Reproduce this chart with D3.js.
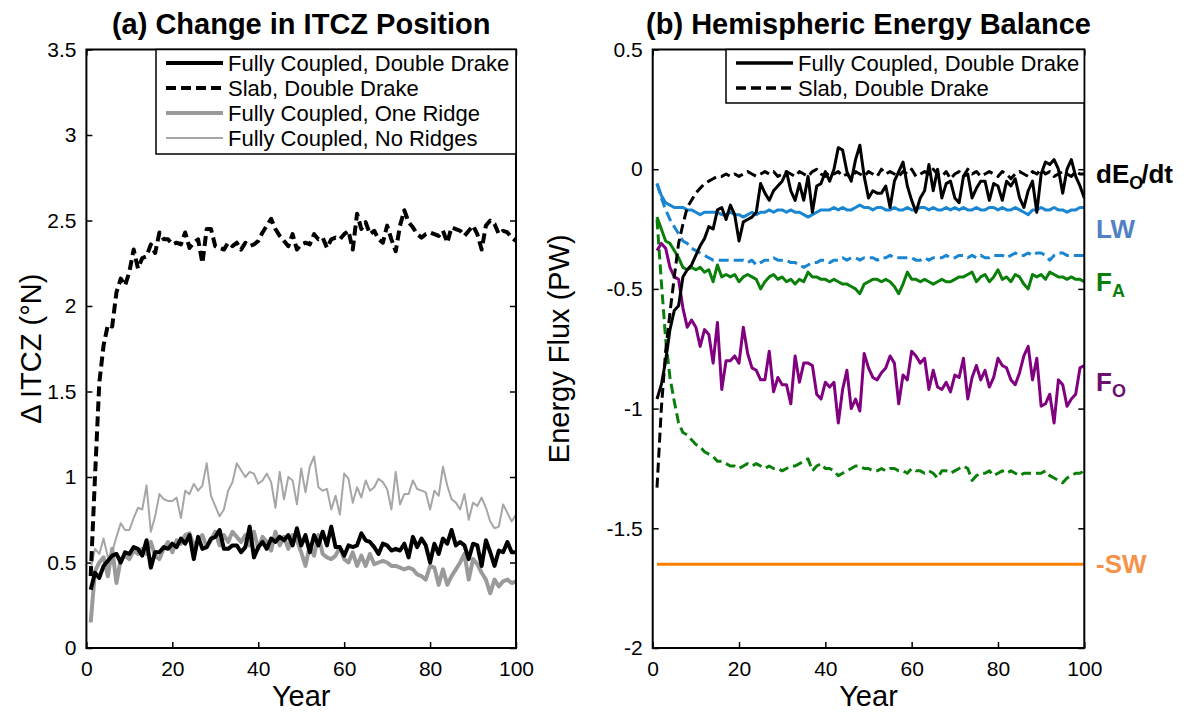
<!DOCTYPE html>
<html>
<head>
<meta charset="utf-8">
<script src="https://cdn.jsdelivr.net/npm/d3@7"></script>
<style>
  html, body { margin: 0; padding: 0; background: #ffffff; }
  svg { display: block; font-family: "Liberation Sans", Arial, Helvetica, sans-serif; }
</style>
</head>
<body>
<svg id="fig" width="1199" height="713"></svg>
<script>
// ---------- data ----------
const years = d3.range(1, 101);

// (a) ITCZ shift, degrees north
const itczCoupledDoubleDrake = [
  0.34,0.44,0.41,0.48,0.51,0.54,0.55,0.50,0.56,0.55,
  0.59,0.58,0.54,0.63,0.47,0.56,0.56,0.59,0.58,0.61,
  0.59,0.64,0.61,0.66,0.52,0.65,0.58,0.59,0.64,0.65,
  0.69,0.58,0.58,0.60,0.60,0.56,0.59,0.71,0.53,0.59,
  0.62,0.58,0.64,0.62,0.65,0.63,0.66,0.60,0.70,0.60,
  0.66,0.56,0.66,0.60,0.68,0.60,0.71,0.59,0.59,0.54,
  0.60,0.59,0.60,0.67,0.63,0.62,0.59,0.55,0.61,0.60,
  0.57,0.58,0.57,0.61,0.53,0.65,0.59,0.64,0.60,0.50,
  0.61,0.55,0.64,0.61,0.69,0.60,0.62,0.60,0.52,0.61,
  0.60,0.48,0.63,0.56,0.48,0.57,0.56,0.62,0.56,0.56];
const itczSlabDoubleDrake = [
  0.42,1.00,1.55,1.77,1.89,1.88,2.08,2.16,2.12,2.20,
  2.33,2.22,2.28,2.29,2.36,2.31,2.43,2.39,2.39,2.36,
  2.37,2.36,2.43,2.34,2.37,2.39,2.25,2.45,2.45,2.35,
  2.34,2.33,2.37,2.35,2.37,2.33,2.37,2.35,2.36,2.38,
  2.43,2.47,2.51,2.45,2.41,2.38,2.35,2.42,2.33,2.36,
  2.37,2.36,2.42,2.39,2.40,2.34,2.39,2.40,2.39,2.42,
  2.44,2.33,2.54,2.45,2.49,2.42,2.44,2.39,2.37,2.47,
  2.39,2.32,2.47,2.56,2.49,2.46,2.42,2.40,2.42,2.43,
  2.42,2.41,2.44,2.37,2.46,2.45,2.44,2.41,2.44,2.47,
  2.42,2.33,2.47,2.50,2.48,2.42,2.44,2.43,2.40,2.38];
const itczCoupledOneRidge = [
  0.15,0.45,0.50,0.53,0.42,0.58,0.38,0.52,0.54,0.52,
  0.57,0.55,0.58,0.55,0.62,0.54,0.52,0.58,0.62,0.56,
  0.63,0.61,0.66,0.67,0.60,0.63,0.66,0.59,0.63,0.68,
  0.60,0.66,0.62,0.68,0.65,0.62,0.66,0.60,0.68,0.58,
  0.65,0.62,0.57,0.68,0.60,0.65,0.58,0.66,0.63,0.56,
  0.48,0.60,0.54,0.66,0.55,0.53,0.52,0.54,0.59,0.52,
  0.50,0.56,0.48,0.54,0.48,0.55,0.49,0.50,0.51,0.50,
  0.48,0.48,0.47,0.46,0.47,0.46,0.43,0.42,0.40,0.48,
  0.47,0.37,0.46,0.37,0.42,0.46,0.50,0.55,0.40,0.52,
  0.49,0.44,0.40,0.32,0.40,0.36,0.39,0.40,0.38,0.39];
const itczCoupledNoRidges = [
  0.46,0.58,0.55,0.64,0.53,0.56,0.65,0.73,0.69,0.69,
  0.76,0.82,0.81,0.95,0.68,0.77,0.90,0.87,0.86,0.86,
  0.88,0.76,0.92,0.90,0.96,0.92,0.95,1.08,0.89,0.83,
  0.77,0.81,0.92,0.97,1.08,1.04,1.00,1.03,1.02,0.96,
  0.98,1.02,0.97,0.82,1.03,0.87,1.00,0.98,0.84,1.05,
  0.91,1.06,1.12,0.94,0.92,0.93,0.81,0.89,0.78,1.02,
  0.99,0.85,0.94,0.88,0.98,0.92,0.94,0.99,0.97,0.93,
  0.81,1.03,0.84,0.90,0.90,0.98,0.93,0.92,0.91,0.81,
  0.92,0.89,1.06,0.95,0.87,0.85,0.81,0.90,0.75,0.85,
  0.83,0.88,0.82,0.74,0.70,0.71,0.84,0.79,0.74,0.78];

// (b) hemispheric energy budget terms, PW
const dEdtCoupled = [
  -0.96,-0.90,-0.80,-0.67,-0.59,-0.57,-0.45,-0.42,-0.40,-0.36,
  -0.32,-0.29,-0.24,-0.25,-0.17,-0.16,-0.21,-0.15,-0.19,-0.30,
  -0.22,-0.21,-0.20,-0.18,-0.06,-0.10,-0.13,-0.09,-0.07,-0.05,
  -0.01,-0.09,-0.13,-0.06,-0.13,-0.03,-0.18,-0.07,-0.06,-0.01,
  -0.05,0.00,0.09,0.08,-0.01,-0.05,0.04,0.10,-0.03,-0.12,
  -0.09,-0.10,-0.10,-0.07,-0.16,-0.05,-0.01,0.03,-0.07,-0.13,
  -0.18,-0.12,-0.09,0.02,-0.09,0.00,-0.12,-0.06,-0.05,-0.12,
  -0.14,-0.03,-0.02,-0.12,-0.08,-0.05,-0.05,-0.13,-0.06,-0.07,
  -0.13,-0.05,-0.07,-0.04,-0.12,-0.16,-0.09,-0.05,-0.18,-0.02,
  0.03,0.02,0.04,0.00,-0.10,0.00,0.04,-0.03,-0.07,-0.12];
const dEdtSlab = [
  -1.33,-1.00,-0.76,-0.60,-0.45,-0.31,-0.23,-0.16,-0.13,-0.10,
  -0.08,-0.06,-0.05,-0.04,-0.03,-0.03,-0.02,-0.03,-0.02,-0.03,
  -0.02,-0.01,-0.02,-0.03,-0.02,-0.01,-0.02,-0.01,-0.03,-0.02,
  -0.01,-0.02,-0.03,-0.01,-0.02,-0.03,-0.01,0.00,-0.02,-0.03,
  -0.01,-0.02,-0.01,-0.03,-0.02,-0.04,-0.01,-0.02,-0.03,-0.01,
  -0.02,-0.03,0.00,-0.02,-0.01,-0.02,-0.03,-0.01,-0.02,0.00,
  -0.03,-0.02,-0.01,-0.02,0.00,-0.02,-0.03,-0.01,-0.04,-0.02,
  -0.01,-0.03,0.00,-0.02,-0.01,-0.03,-0.02,-0.01,-0.02,-0.03,
  -0.01,-0.02,-0.04,-0.02,-0.01,-0.02,-0.03,-0.01,-0.02,0.00,
  -0.02,-0.01,-0.03,-0.02,-0.01,-0.02,-0.03,-0.01,-0.02,-0.02];
const lwCoupled = [
  -0.06,-0.11,-0.14,-0.15,-0.16,-0.16,-0.16,-0.17,-0.17,-0.18,
  -0.19,-0.18,-0.18,-0.18,-0.18,-0.19,-0.19,-0.18,-0.19,-0.19,
  -0.20,-0.19,-0.18,-0.19,-0.18,-0.18,-0.17,-0.18,-0.17,-0.17,
  -0.18,-0.17,-0.18,-0.18,-0.19,-0.20,-0.19,-0.18,-0.17,-0.17,
  -0.17,-0.16,-0.17,-0.16,-0.17,-0.17,-0.16,-0.15,-0.16,-0.16,
  -0.17,-0.16,-0.16,-0.17,-0.17,-0.16,-0.17,-0.17,-0.16,-0.17,
  -0.17,-0.16,-0.16,-0.17,-0.16,-0.17,-0.17,-0.16,-0.17,-0.16,
  -0.17,-0.16,-0.17,-0.17,-0.16,-0.17,-0.17,-0.16,-0.16,-0.17,
  -0.16,-0.17,-0.17,-0.16,-0.17,-0.18,-0.19,-0.17,-0.17,-0.16,
  -0.17,-0.17,-0.16,-0.17,-0.17,-0.18,-0.17,-0.17,-0.16,-0.16];
const lwSlab = [
  -0.06,-0.12,-0.17,-0.21,-0.24,-0.27,-0.30,-0.31,-0.33,-0.34,
  -0.35,-0.36,-0.37,-0.38,-0.38,-0.38,-0.38,-0.38,-0.38,-0.38,
  -0.38,-0.39,-0.38,-0.40,-0.39,-0.38,-0.38,-0.37,-0.38,-0.38,
  -0.38,-0.39,-0.39,-0.40,-0.41,-0.40,-0.39,-0.39,-0.38,-0.38,
  -0.39,-0.38,-0.38,-0.37,-0.38,-0.37,-0.37,-0.38,-0.37,-0.37,
  -0.37,-0.38,-0.37,-0.37,-0.36,-0.37,-0.37,-0.37,-0.37,-0.37,
  -0.38,-0.38,-0.37,-0.38,-0.37,-0.37,-0.37,-0.36,-0.37,-0.37,
  -0.36,-0.36,-0.37,-0.36,-0.37,-0.36,-0.37,-0.37,-0.36,-0.36,
  -0.36,-0.37,-0.36,-0.35,-0.36,-0.36,-0.35,-0.36,-0.35,-0.35,
  -0.36,-0.38,-0.36,-0.35,-0.35,-0.36,-0.36,-0.36,-0.36,-0.36];
const faCoupled = [
  -0.20,-0.25,-0.30,-0.31,-0.34,-0.37,-0.41,-0.42,-0.41,-0.42,
  -0.41,-0.43,-0.42,-0.47,-0.40,-0.45,-0.44,-0.45,-0.44,-0.47,
  -0.45,-0.44,-0.45,-0.46,-0.50,-0.47,-0.45,-0.44,-0.46,-0.45,
  -0.47,-0.46,-0.48,-0.46,-0.47,-0.43,-0.45,-0.45,-0.46,-0.46,
  -0.47,-0.46,-0.47,-0.48,-0.48,-0.49,-0.50,-0.52,-0.48,-0.47,
  -0.46,-0.46,-0.47,-0.46,-0.47,-0.49,-0.52,-0.48,-0.43,-0.46,
  -0.46,-0.47,-0.46,-0.47,-0.48,-0.47,-0.46,-0.47,-0.47,-0.46,
  -0.45,-0.45,-0.44,-0.43,-0.47,-0.45,-0.44,-0.47,-0.45,-0.42,
  -0.46,-0.45,-0.47,-0.44,-0.45,-0.48,-0.50,-0.44,-0.45,-0.44,
  -0.46,-0.43,-0.44,-0.45,-0.45,-0.46,-0.45,-0.46,-0.46,-0.47];
const faSlab = [
  -0.21,-0.47,-0.71,-0.87,-0.97,-1.06,-1.10,-1.11,-1.13,-1.15,
  -1.16,-1.18,-1.19,-1.20,-1.22,-1.22,-1.23,-1.24,-1.24,-1.25,
  -1.24,-1.23,-1.24,-1.23,-1.24,-1.25,-1.24,-1.25,-1.25,-1.26,
  -1.25,-1.24,-1.24,-1.23,-1.22,-1.21,-1.26,-1.24,-1.23,-1.25,
  -1.25,-1.26,-1.28,-1.27,-1.26,-1.25,-1.24,-1.24,-1.25,-1.25,
  -1.26,-1.26,-1.25,-1.26,-1.25,-1.25,-1.26,-1.26,-1.27,-1.25,
  -1.26,-1.26,-1.27,-1.26,-1.27,-1.29,-1.26,-1.26,-1.27,-1.26,
  -1.25,-1.24,-1.25,-1.30,-1.28,-1.27,-1.27,-1.26,-1.28,-1.27,
  -1.26,-1.27,-1.26,-1.27,-1.28,-1.27,-1.27,-1.27,-1.27,-1.27,
  -1.26,-1.28,-1.29,-1.30,-1.31,-1.29,-1.28,-1.27,-1.27,-1.26];
const foCoupled = [
  -0.34,-0.31,-0.33,-0.41,-0.45,-0.46,-0.58,-0.66,-0.63,-0.66,
  -0.74,-0.67,-0.69,-0.81,-0.64,-0.92,-0.80,-0.80,-0.78,-0.81,
  -0.66,-0.77,-0.83,-0.84,-0.88,-0.88,-0.76,-0.93,-0.87,-0.90,
  -0.90,-0.98,-0.78,-0.89,-0.81,-0.81,-0.82,-0.94,-0.96,-0.89,
  -0.91,-0.89,-1.06,-0.92,-0.84,-1.00,-0.96,-1.01,-0.77,-0.83,
  -0.87,-0.88,-0.85,-0.83,-0.78,-0.81,-0.98,-0.86,-0.88,-0.76,
  -0.78,-0.81,-0.79,-0.92,-0.84,-0.91,-0.92,-0.89,-0.93,-0.86,
  -0.87,-0.79,-0.96,-0.87,-0.82,-0.88,-0.84,-0.91,-0.87,-0.79,
  -0.82,-0.83,-0.88,-0.90,-0.85,-0.78,-0.74,-0.88,-0.79,-0.99,
  -0.98,-0.94,-1.06,-0.88,-0.90,-0.99,-0.96,-0.94,-0.83,-0.82];
const negSW = -1.65;

// tick values and labels
const yearTicks = [0, 20, 40, 60, 80, 100];
const itczTicks = [0, 0.5, 1, 1.5, 2, 2.5, 3, 3.5];
const fluxTicks = [0.5, 0, -0.5, -1, -1.5, -2];
const legendA = ["Fully Coupled, Double Drake", "Slab, Double Drake",
                 "Fully Coupled, One Ridge", "Fully Coupled, No Ridges"];
const legendB = ["Fully Coupled, Double Drake", "Slab, Double Drake"];

// ---------- drawing ----------
const svg = d3.select("#fig");
const FONT = 21;
const dashed = "10,5";

function panel(opts) {
  const g = svg.append("g");
  const x = d3.scaleLinear().domain([0, 100]).range([opts.left, opts.right]);
  const y = d3.scaleLinear().domain(opts.yDomain).range([opts.bottom, opts.top]);

  const clipId = "clip-" + opts.id;
  svg.append("clipPath").attr("id", clipId)
    .append("rect").attr("x", opts.left).attr("y", opts.top)
    .attr("width", opts.right - opts.left).attr("height", opts.bottom - opts.top);

  const fmt = d => String(d);
  // bottom axis with labels, inward ticks
  const ax = g.append("g").attr("transform", `translate(0,${opts.bottom})`)
    .call(d3.axisBottom(x).tickValues(yearTicks).tickSizeInner(-6).tickSizeOuter(0)
      .tickPadding(13).tickFormat(fmt));
  // top axis ticks only
  const axT = g.append("g").attr("transform", `translate(0,${opts.top})`)
    .call(d3.axisTop(x).tickValues(yearTicks).tickSizeInner(-6).tickSizeOuter(0).tickFormat(""));
  const ay = g.append("g").attr("transform", `translate(${opts.left},0)`)
    .call(d3.axisLeft(y).tickValues(opts.yTicks).tickSizeInner(-6).tickSizeOuter(0)
      .tickPadding(10).tickFormat(fmt));
  const ayR = g.append("g").attr("transform", `translate(${opts.right},0)`)
    .call(d3.axisRight(y).tickValues(opts.yTicks).tickSizeInner(-6).tickSizeOuter(0).tickFormat(""));
  [ax, axT, ay, ayR].forEach(a => {
    a.select(".domain").remove();
    a.selectAll(".tick line").attr("stroke", "#000").attr("stroke-width", 1.5);
    a.selectAll(".tick text").attr("fill", "#000")
      .style("font-size", FONT + "px")
      .style("font-family", '"Liberation Sans", Arial, sans-serif');
  });

  const plot = g.append("g").attr("clip-path", `url(#${clipId})`);

  // frame
  g.append("rect").attr("x", opts.left).attr("y", opts.top)
    .attr("width", opts.right - opts.left).attr("height", opts.bottom - opts.top)
    .attr("fill", "none").attr("stroke", "#000").attr("stroke-width", 2);

  // title
  g.append("text").attr("x", (opts.left + opts.right) / 2).attr("y", 34)
    .attr("text-anchor", "middle").style("font-size", "29px").style("font-weight", "bold")
    .text(opts.title);
  // x label
  g.append("text").attr("x", (opts.left + opts.right) / 2).attr("y", 706)
    .attr("text-anchor", "middle").style("font-size", "29px").text("Year");
  // y label
  g.append("text")
    .attr("transform", `translate(${opts.yLabelX},${(opts.top + opts.bottom) / 2}) rotate(-90)`)
    .attr("text-anchor", "middle").style("font-size", "29px").text(opts.yLabel);

  return { g, plot, x, y };
}

function drawSeries(p, values, style) {
  const line = d3.line().x((d, i) => p.x(years[i])).y(d => p.y(d));
  p.plot.append("path").datum(values)
    .attr("d", line)
    .attr("fill", "none")
    .attr("stroke", style.color)
    .attr("stroke-width", style.width)
    .attr("stroke-linejoin", "round")
    .attr("stroke-dasharray", style.dash || null);
}

function legend(p, box, entries) {
  const g = p.g.append("g");
  g.append("rect").attr("x", box.x0).attr("y", box.y0)
    .attr("width", box.x1 - box.x0).attr("height", box.y1 - box.y0)
    .attr("fill", "#fff").attr("stroke", "#000").attr("stroke-width", 1.5);
  entries.forEach((e, i) => {
    const yy = box.y0 + 13.5 + i * 25;
    g.append("line").attr("x1", box.x0 + 10).attr("x2", box.x0 + 67)
      .attr("y1", yy).attr("y2", yy)
      .attr("stroke", e.color).attr("stroke-width", e.width)
      .attr("stroke-dasharray", e.dash || null);
    g.append("text").attr("x", box.x0 + 72).attr("y", yy).attr("dy", "0.36em")
      .style("font-size", "22px").text(e.label);
  });
}

// ----- panel (a) -----
const pa = panel({
  id: "a", left: 86.4, right: 516, top: 49.5, bottom: 648,
  yDomain: [0, 3.5], yTicks: itczTicks,
  title: "(a) Change in ITCZ Position", yLabel: "\u0394 ITCZ (\u00B0N)", yLabelX: 41
});
const styleA = [
  { color: "#000000", width: 4, label: legendA[0] },
  { color: "#000000", width: 4, dash: dashed, label: legendA[1] },
  { color: "#9a9a9a", width: 4, label: legendA[2] },
  { color: "#a6a6a6", width: 2, label: legendA[3] }
];
drawSeries(pa, itczCoupledNoRidges, styleA[3]);
drawSeries(pa, itczCoupledOneRidge, styleA[2]);
drawSeries(pa, itczSlabDoubleDrake, styleA[1]);
drawSeries(pa, itczCoupledDoubleDrake, styleA[0]);
legend(pa, { x0: 156, x1: 516, y0: 49.5, y1: 154 }, styleA);

// ----- panel (b) -----
const pb = panel({
  id: "b", left: 652.7, right: 1084.3, top: 49.5, bottom: 648,
  yDomain: [-2, 0.5], yTicks: fluxTicks,
  title: "(b) Hemispheric Energy Balance", yLabel: "Energy Flux (PW)", yLabelX: 569
});
const BLUE = "#1a86d2", GREEN = "#0a800a", PURPLE = "#800080", ORANGE = "#ff8000";
drawSeries(pb, years.map(() => negSW), { color: ORANGE, width: 3 });
drawSeries(pb, faSlab, { color: GREEN, width: 3, dash: dashed });
drawSeries(pb, foCoupled, { color: PURPLE, width: 3 });
drawSeries(pb, faCoupled, { color: GREEN, width: 3 });
drawSeries(pb, lwSlab, { color: BLUE, width: 3, dash: dashed });
drawSeries(pb, lwCoupled, { color: BLUE, width: 3 });
drawSeries(pb, dEdtSlab, { color: "#000", width: 3, dash: dashed });
drawSeries(pb, dEdtCoupled, { color: "#000", width: 3 });
legend(pb, { x0: 726, x1: 1084.3, y0: 49.5, y1: 103 }, [
  { color: "#000", width: 3.5, label: legendB[0] },
  { color: "#000", width: 3.5, dash: dashed, label: legendB[1] }
]);

// term labels to the right of panel (b)
function termLabel(yVal, color, main, sub, tail) {
  const t = svg.append("text").attr("x", 1096).attr("y", pb.y(yVal) + 9)
    .attr("fill", color).style("font-size", "26px").style("font-weight", "bold");
  t.append("tspan").text(main);
  if (sub) t.append("tspan").attr("dy", 6).style("font-size", "18px").text(sub);
  if (tail) t.append("tspan").attr("dy", -6).attr("dx", -2).text(tail);
}
termLabel(-0.02, "#000000", "dE", "O", "/dt");
termLabel(-0.25, "#4f81c4", "LW");
termLabel(-0.47, "#0b7d0b", "F", "A");
termLabel(-0.89, "#6d0f6d", "F", "O");
termLabel(-1.65, "#f5934a", "-SW");
</script>
</body>
</html>
